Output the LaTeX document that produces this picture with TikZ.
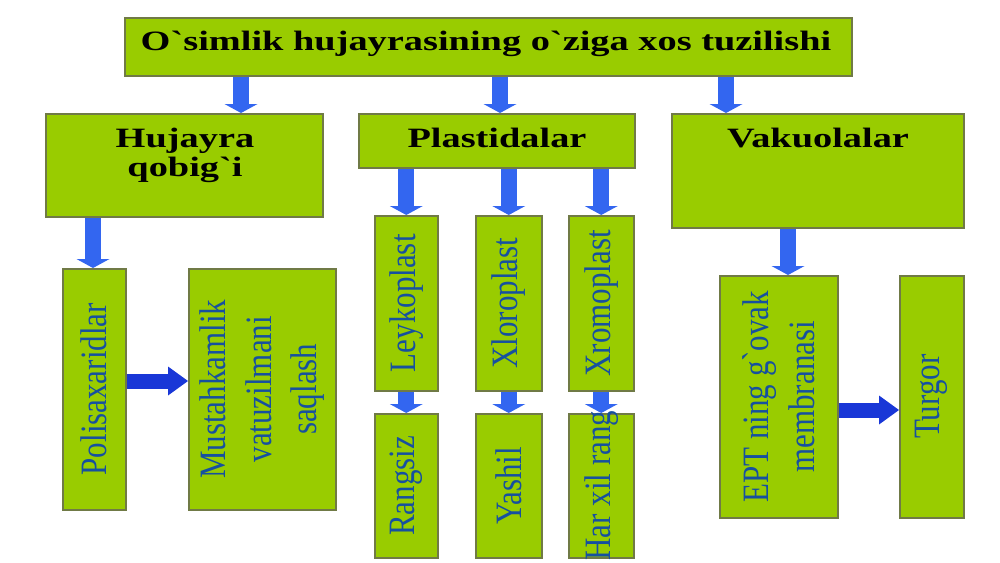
\documentclass[tikz,border=0pt]{standalone}
\usepackage{fontspec}
\setmainfont{Liberation Serif}
\usetikzlibrary{arrows.meta}
\definecolor{boxgreen}{RGB}{153,204,0}
\definecolor{boxedge}{RGB}{112,122,70}
\definecolor{arrblue}{RGB}{51,102,240}
\definecolor{arrdark}{RGB}{25,55,215}
\definecolor{vtextcol}{RGB}{22,80,160}
\begin{document}
\begin{tikzpicture}[x=1pt,y=-1pt,
  box/.style={draw=boxedge, line width=1.5pt, fill=boxgreen, inner sep=0pt, anchor=north west},
  htext/.style={anchor=base, inner sep=0pt, font=\fontsize{28}{30}\selectfont\bfseries, xscale=1.37},
  vtext/.style={rotate=90, yscale=1.2, inner sep=0pt, align=center, text=vtextcol, font=\fontsize{31}{38}\selectfont},
  barrow/.style={draw=arrblue, line width=16pt, -{Triangle[width=33pt,length=9pt,line width=0pt]}},
  harrow/.style={draw=arrdark, line width=15pt, -{Triangle[width=29pt,length=20pt,line width=0pt]}}]
\useasboundingbox[fill=white] (0,0) rectangle (1000,562);
% boxes
\node[box, minimum width=727pt, minimum height=58pt] (top) at (124,17) {};
\node[box, minimum width=277pt, minimum height=103pt] (hq) at (45,113) {};
\node[box, minimum width=276pt, minimum height=54pt] (pl) at (358,113) {};
\node[box, minimum width=292pt, minimum height=114pt] (vk) at (671,113) {};
\node[box, minimum width=63pt, minimum height=241pt] (pol) at (62,268) {};
\node[box, minimum width=147pt, minimum height=241pt] (must) at (188,268) {};
\node[box, minimum width=63pt, minimum height=175pt] (ley) at (374,215) {};
\node[box, minimum width=66pt, minimum height=175pt] (xlo) at (475,215) {};
\node[box, minimum width=65pt, minimum height=175pt] (xro) at (568,215) {};
\node[box, minimum width=63pt, minimum height=144pt] (ran) at (374,413) {};
\node[box, minimum width=66pt, minimum height=144pt] (yas) at (475,413) {};
\node[box, minimum width=65pt, minimum height=144pt] (har) at (568,413) {};
\node[box, minimum width=118pt, minimum height=242pt] (ept) at (719,275) {};
\node[box, minimum width=64pt, minimum height=242pt] (tur) at (899,275) {};
% header texts
\node[htext] (ttop) at (486,50) {O\textasciigrave simlik hujayrasining o\textasciigrave ziga xos tuzilishi};
\node[htext] (thq1) at (185,147) {Hujayra};
\node[htext] (thq2) at (185,176) {qobig\textasciigrave i};
\node[htext] (tpl) at (497,147) {Plastidalar};
\node[htext] (tvk) at (818,147) {Vakuolalar};
% vertical texts
\node[vtext] (tpol) at (pol.center) {Polisaxaridlar};
\node[vtext] (tmust) at (must.center) {Mustahkamlik\\vatuzilmani\\saqlash};
\node[vtext] (tley) at (ley.center) {Leykoplast};
\node[vtext] (txlo) at (xlo.center) {Xloroplast};
\node[vtext] (txro) at (xro.center) {Xromoplast};
\node[vtext] (tran) at (ran.center) {Rangsiz};
\node[vtext] (tyas) at (yas.center) {Yashil};
\node[vtext] (thar) at (har.center) {Har xil rang};
\node[vtext] (tept) at (ept.center) {EPT ning g\textasciigrave ovak\\membranasi};
\node[vtext] (ttur) at (tur.center) {Turgor};
% arrows
\draw[barrow] (241,0 |- top.south) -- (241,0 |- hq.north);
\draw[barrow] (500,0 |- top.south) -- (500,0 |- pl.north);
\draw[barrow] (726,0 |- top.south) -- (726,0 |- vk.north);
\draw[barrow] (93,0 |- hq.south) -- (93,0 |- pol.north);
\draw[barrow] (ley.center |- pl.south) -- (ley.north);
\draw[barrow] (xlo.center |- pl.south) -- (xlo.north);
\draw[barrow] (xro.center |- pl.south) -- (xro.north);
\draw[barrow] (ley.south) -- (ran.north);
\draw[barrow] (xlo.south) -- (yas.north);
\draw[barrow] (xro.south) -- (har.north);
\draw[barrow] (788,0 |- vk.south) -- (788,0 |- ept.north);
\draw[harrow] (pol.east |- 0,381) -- (must.west |- 0,381);
\draw[harrow] (ept.east |- 0,410) -- (tur.west |- 0,410);
\end{tikzpicture}
\end{document}
